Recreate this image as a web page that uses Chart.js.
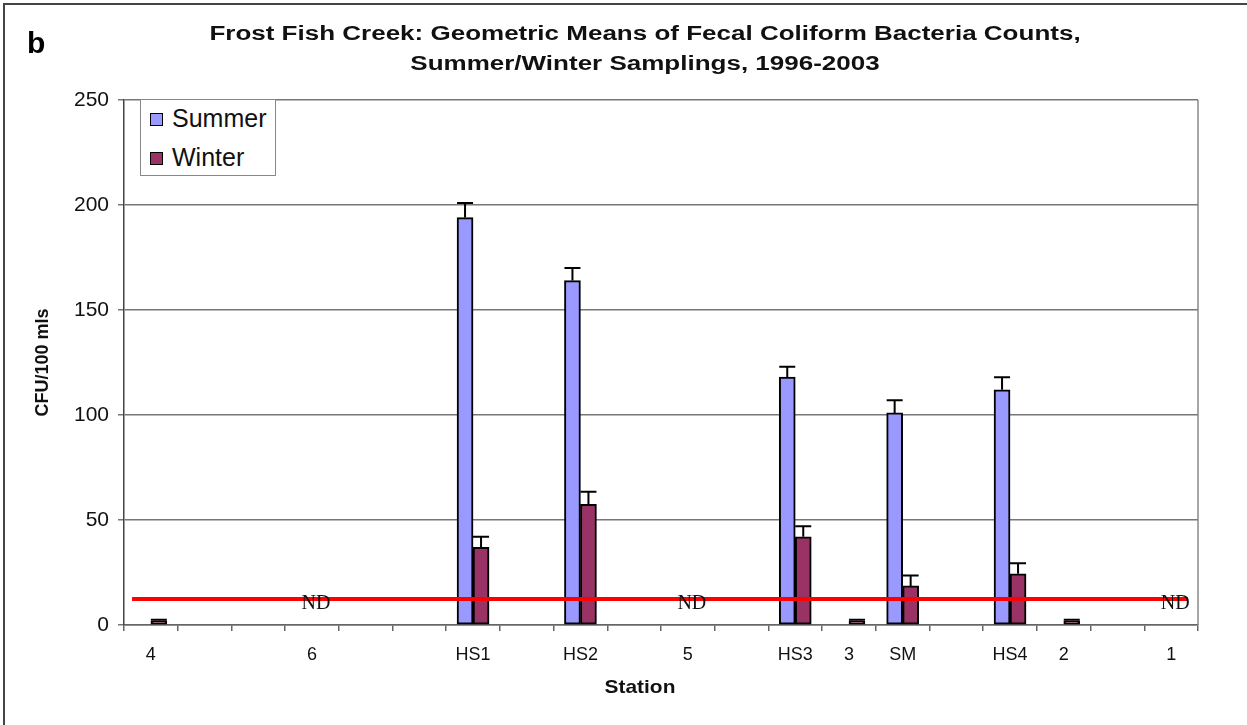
<!DOCTYPE html>
<html>
<head>
<meta charset="utf-8">
<script src="https://cdn.jsdelivr.net/npm/chart.js@4/dist/chart.umd.min.js"></script>
<style>
  html, body { margin: 0; padding: 0; background: #fff; }
  body { width: 1247px; height: 725px; position: relative; overflow: hidden; font-family: Arial, "Liberation Sans", sans-serif; }
  #frame { position: absolute; left: 3px; top: 3px; width: 1250px; height: 760px; border: 2px solid #444; box-sizing: border-box; }
  #cv { position: absolute; left: 0; top: 0; }
  #tag { position: absolute; left: 27px; top: 26px; font-size: 30px; font-weight: bold; }
  #title { position: absolute; left: 0; width: 1290px; top: 18px; text-align: center; font-size: 20px; font-weight: bold; line-height: 30px; color: #111; transform: scaleX(1.3); transform-origin: 645px 0; }
  #xtitle { position: absolute; left: 540px; width: 200px; top: 676px; text-align: center; font-size: 19px; font-weight: bold; color: #111; transform: scaleX(1.1); }
  #legend { position: absolute; left: 140px; top: 99px; width: 136px; height: 77px; border: 1px solid #888; background: #fff; box-sizing: border-box; }
  .item { position: absolute; left: 9px; height: 28px; line-height: 28px; font-size: 25px; color: #111; white-space: nowrap; }
  .sw { display: inline-block; width: 11px; height: 11px; border: 1.5px solid #000; margin-right: 9px; vertical-align: 1px; }
</style>
</head>
<body>
<div id="frame"></div>
<canvas id="cv" width="1247" height="725"></canvas>
<div id="tag">b</div>
<div id="title">Frost Fish Creek: Geometric Means of Fecal Coliform Bacteria Counts,<br>Summer/Winter Samplings, 1996-2003</div>
<div id="xtitle">Station</div>
<div id="legend"></div>
<script>
// station order along the creek (blank slots keep Excel's spacing)
const stations = ['4', '', '', '6', '', '', 'HS1', '', 'HS2', '', '5', '', 'HS3', '3', 'SM', '', 'HS4', '2', '', '1'];

const summer    = [0, null, null, null, null, null, 194, null, 164, null, null, null, 118, 0, 101, null, 112, 0, null, null];
const summerErr = [0, null, null, null, null, null, 7,   null, 6,   null, null, null, 5,   0, 6,   null, 6,   0, null, null];
const winter    = [2, null, null, null, null, null, 37,  null, 57.5, null, null, null, 42, 2, 18.6, null, 24.4, 2, null, null];
const winterErr = [0.5, null, null, null, null, null, 5, null, 6, null, null, null, 5, 0.5, 5, null, 5, 0.5, null, null];

// standard line (red), given in category units, and "not detected" stations
const limitValue = 12.4;
const limitSpan = [-0.35, 19.31];
const ndSlots = [3, 10, 19];
const ndValue = 10.3;

const yTicks = [0, 50, 100, 150, 200, 250];

const SUMMER_COL = '#9999FF';
const WINTER_COL = '#993366';

/* === legend (html) === */
const legendItems = [['Summer', SUMMER_COL], ['Winter', WINTER_COL]];
legendItems.forEach(([name, col], i) => {
  const d = document.createElement('div');
  d.className = 'item';
  d.style.top = (4 + i * 39) + 'px';
  d.innerHTML = `<span class="sw" style="background:${col}"></span>${name}`;
  document.getElementById('legend').appendChild(d);
});

/* === error bars + ND text + right border === */
const extras = {
  id: 'extras',
  afterDatasetsDraw(chart) {
    const ctx = chart.ctx;
    const y = chart.scales.y;
    const errs = [summerErr, winterErr];
    ctx.save();
    ctx.strokeStyle = '#000';
    ctx.lineWidth = 2;
    [0, 1].forEach((di) => {
      const meta = chart.getDatasetMeta(di);
      const vals = chart.data.datasets[di].data;
      meta.data.forEach((bar, i) => {
        const v = vals[i], e = errs[di][i];
        if (v == null || !e) return;
        const top = y.getPixelForValue(v + e);
        const w = bar.width / 2;
        ctx.beginPath();
        ctx.moveTo(bar.x, bar.y);
        ctx.lineTo(bar.x, top);
        ctx.moveTo(bar.x - w, top);
        ctx.lineTo(bar.x + w, top);
        ctx.stroke();
      });
    });
    // ND labels
    ctx.fillStyle = '#111';
    ctx.font = '20px "Liberation Serif", "Times New Roman", serif';
    ctx.textAlign = 'center';
    ctx.textBaseline = 'middle';
    ndSlots.forEach((i) => {
      ctx.fillText('ND', chart.scales.x.getPixelForValue(i) + 4, y.getPixelForValue(ndValue));
    });
    // plot frame on the right
    const a = chart.chartArea;
    ctx.strokeStyle = '#888';
    ctx.lineWidth = 1.5;
    ctx.beginPath();
    ctx.moveTo(a.right, a.top);
    ctx.lineTo(a.right, a.bottom);
    ctx.stroke();
    ctx.restore();
  }
};

const tickFont = { family: 'Arial, "Liberation Sans", sans-serif', size: 18 };

new Chart(document.getElementById('cv'), {
  data: {
    labels: stations,
    datasets: [
      {
        type: 'bar', label: 'Summer', data: summer, order: 1,
        backgroundColor: SUMMER_COL, borderColor: '#000', borderWidth: 2,
        barThickness: 16, borderSkipped: false
      },
      {
        type: 'bar', label: 'Winter', data: winter, order: 1,
        backgroundColor: WINTER_COL, borderColor: '#000', borderWidth: 2,
        barThickness: 16, borderSkipped: false
      },
      {
        type: 'line', label: 'Standard', order: 0, parsing: false,
        data: limitSpan.map((x) => ({ x, y: limitValue })),
        borderColor: '#FF0000', borderWidth: 4, pointRadius: 0, fill: false
      }
    ]
  },
  options: {
    responsive: false,
    devicePixelRatio: 1,
    animation: false,
    layout: { padding: { top: 100, right: 49, bottom: 20, left: 0 } },
    plugins: { legend: { display: false }, tooltip: { enabled: false } },
    scales: {
      x: {
        type: 'category',
        offset: true,
        afterFit: (s) => { s.height = 80; },
        grid: { offset: true, drawOnChartArea: false, tickLength: 6, color: '#666', lineWidth: 1.5 },
        border: { color: '#666', width: 1.5 },
        ticks: { color: '#111', font: tickFont, padding: 13, maxRotation: 0, autoSkip: false }
      },
      y: {
        min: 0, max: 250,
        afterFit: (s) => { s.width = 124; },
        afterBuildTicks: (s) => { s.ticks = yTicks.map((v) => ({ value: v })); },
        grid: { color: '#777', lineWidth: 1.5, tickLength: 6 },
        border: { color: '#444', width: 1.5 },
        ticks: { color: '#111', font: { family: tickFont.family, size: 21 }, padding: 9 },
        title: { display: true, text: 'CFU/100 mls', color: '#111', font: { family: 'Arial, "Liberation Sans", sans-serif', size: 18, weight: 'bold' }, padding: { top: 32, bottom: 0 } }
      }
    }
  },
  plugins: [extras]
});
</script>
</body>
</html>
